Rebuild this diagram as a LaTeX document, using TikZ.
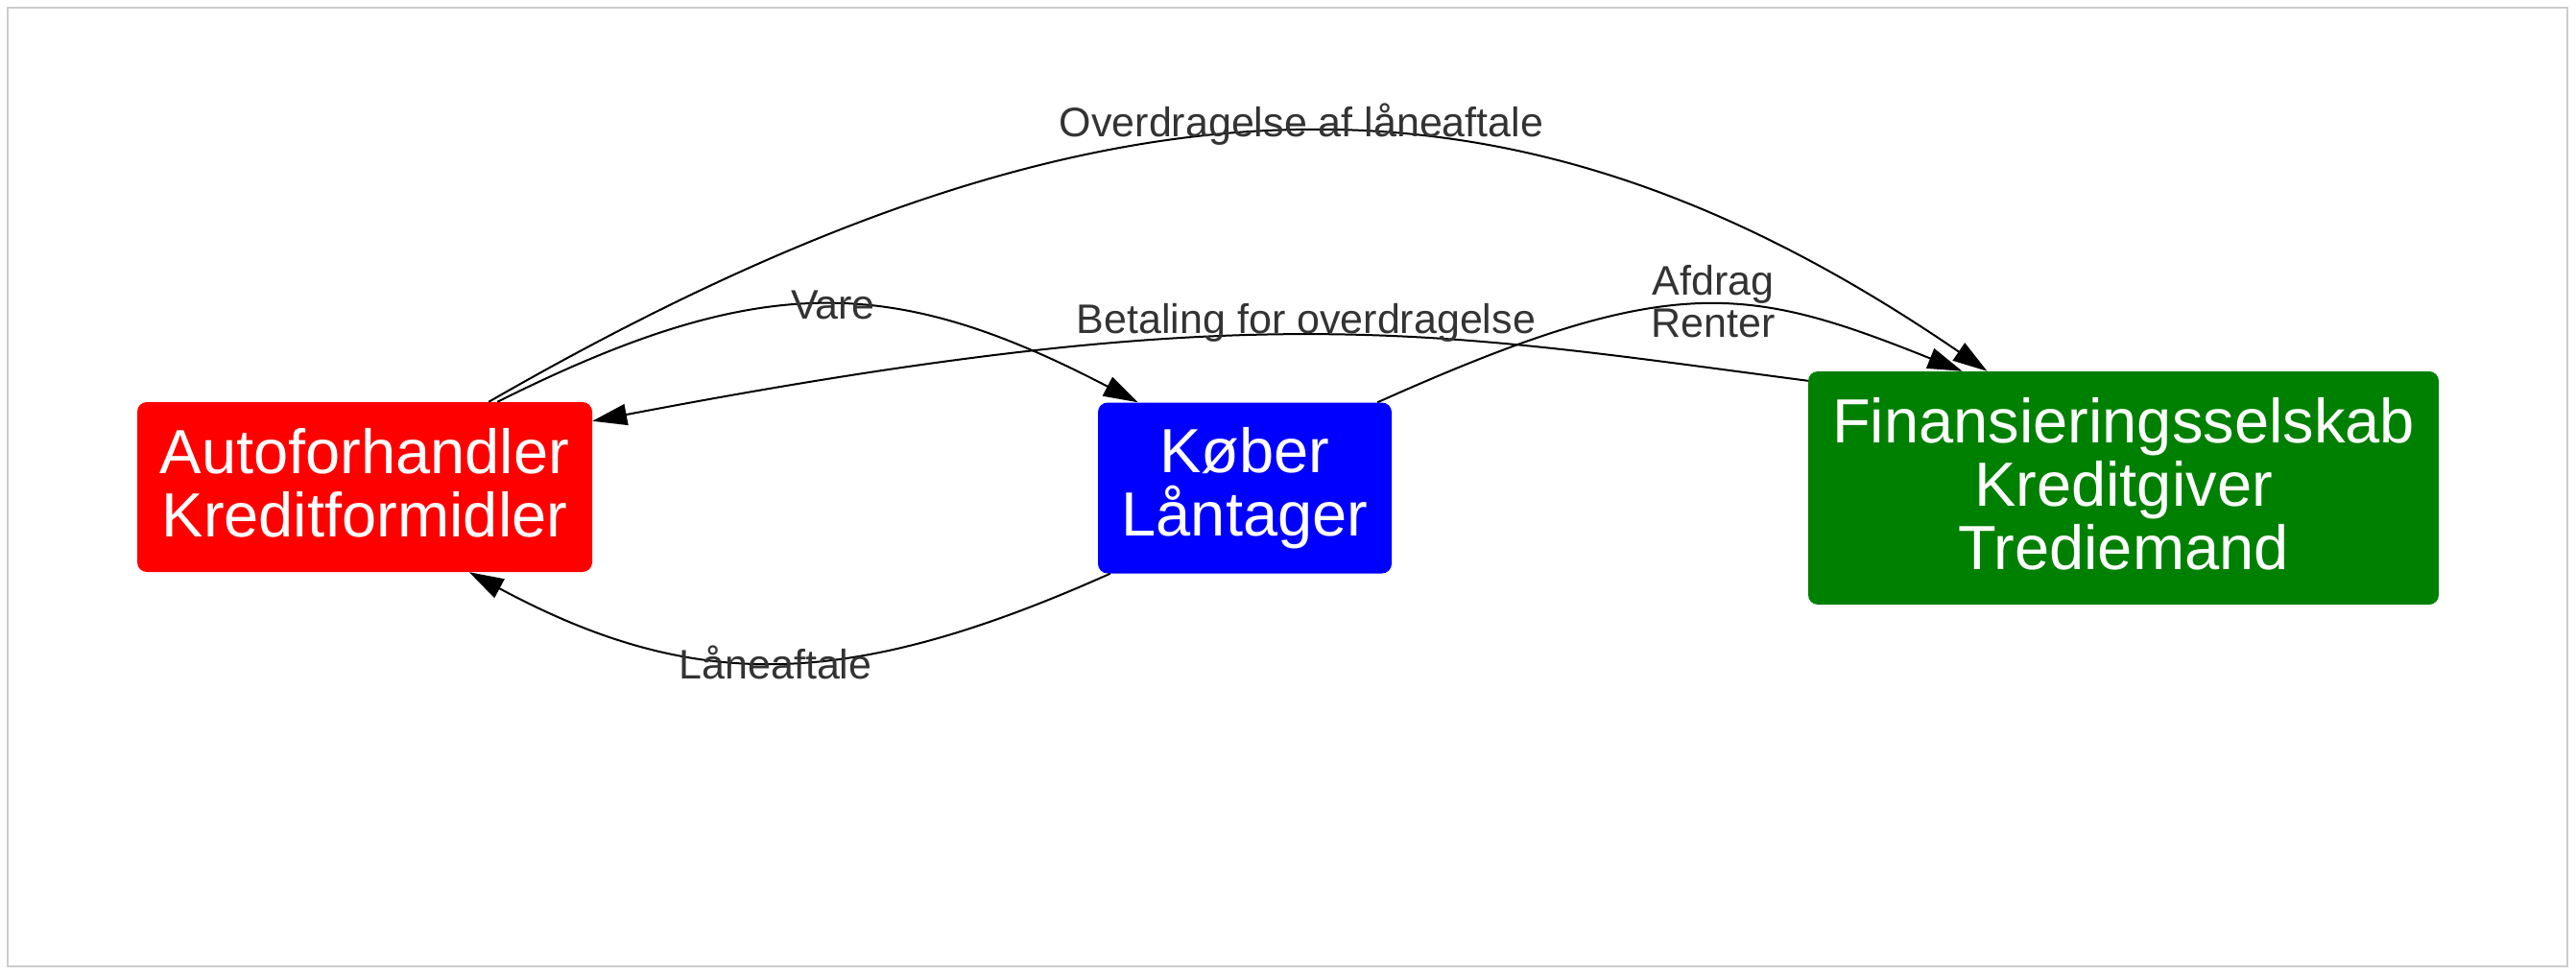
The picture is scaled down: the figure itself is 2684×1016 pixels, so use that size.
\documentclass[tikz,border=0pt]{standalone}
\usepackage{fontspec}
\setmainfont{Liberation Sans}
\usetikzlibrary{arrows.meta}
\definecolor{borderc}{HTML}{CCCCCC}
\definecolor{lblc}{HTML}{333333}
\definecolor{boxred}{HTML}{FF0000}
\definecolor{boxblue}{HTML}{0000FF}
\definecolor{boxgreen}{HTML}{008000}
\tikzset{
  box/.style={rectangle, rounded corners=10pt, inner sep=0pt, align=center,
    text=white, font=\fontsize{65}{66}\selectfont},
  edge/.style={draw=black, line width=2pt, -{Triangle[length=36pt,width=22pt]}},
  lbl/.style={inner sep=0pt, text=lblc, font=\fontsize{43}{44}\selectfont, align=center},
}
\begin{document}
\begin{tikzpicture}[x=1pt,y=-1pt]
\useasboundingbox (0,0) rectangle (2684,1016);
\draw[borderc, line width=2pt] (8,8) rectangle (2675,1007);

\node[box, fill=boxred, minimum width=474pt, minimum height=177pt, text depth=10pt]
  (red) at (380,507.5) {Autoforhandler\\Kreditformidler};
\node[box, fill=boxblue, minimum width=306pt, minimum height=178pt]
  (blue) at (1297,508.5) {Køber\\Låntager};
\node[box, fill=boxgreen, minimum width=657pt, minimum height=243pt, text depth=10pt]
  (green) at (2212.5,508.5) {Finansieringsselskab\\Kreditgiver\\Trediemand};

% edges
\draw[edge] ([xshift=-108pt]red.north east) .. controls (1167,40) and (1590,58) .. ([xshift=-142pt]green.north);
\draw[edge] ([xshift=-99pt]red.north east) .. controls (792,282) and (930,286) .. ([xshift=42pt]blue.north west);
\draw[edge] ([yshift=-10pt]green.north west) .. controls (1488,345) and (1307,307) .. ([yshift=-20pt]red.north east);
\draw[edge] ([xshift=-15pt]blue.north east) .. controls (1741,282) and (1820,297) .. ([xshift=-168pt]green.north);
\draw[edge] ([xshift=13pt]blue.south west) .. controls (881,721) and (721,721) .. ([xshift=346pt]red.south west);

% labels
\node[lbl, anchor=base] (l1) at (1356,143) {Overdragelse af låneaftale};
\node[lbl, anchor=base] (l2) at (868,332) {Vare};
\node[lbl, anchor=base] (l3) at (1361,347) {Betaling for overdragelse};
\node[lbl] (l4) at (1785,314.5) {Afdrag\\Renter};
\node[lbl, anchor=base] (l5) at (808,707) {Låneaftale};
\end{tikzpicture}
\end{document}
